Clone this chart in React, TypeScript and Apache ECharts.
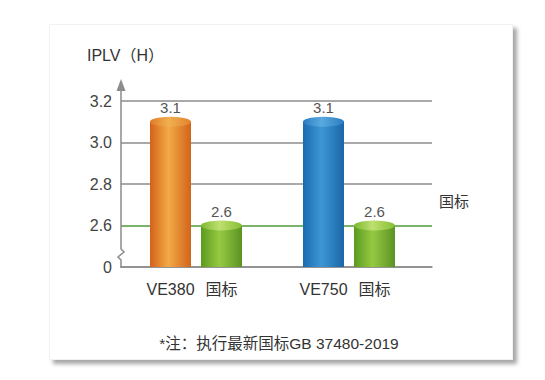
import React, { useEffect, useRef } from "react";
import * as echarts from "echarts";

const categories = ["VE380", "国标", "", "VE750", "国标"];
const iplv = [3.1, 2.6, null, 3.1, 2.6];
const barPalette = ["orange", "green", "none", "blue", "green"];
const yAxisLabels: Record<string, string> = { "2.4": "0", "2.6": "2.6", "2.8": "2.8", "3": "3.0", "3.2": "3.2" };
const refLineName = "国标";
const titleText = "IPLV（H）";
const noteText = "*注：执行最新国标GB 37480-2019";

const FONT = "'Liberation Sans', Arial, 'Noto Sans CJK SC', sans-serif";

const bodyGrad: Record<string, string[]> = {
  orange: ["#d4621a", "#f3aa46", "#d2641c"],
  green: ["#5a9a20", "#96c942", "#5a9322"],
  blue: ["#1b6bb0", "#3e97d5", "#1a66a6"],
};
const topGrad: Record<string, string[]> = {
  orange: ["#e07a25", "#f0b050", "#e2832c"],
  green: ["#7fb832", "#bde070", "#86bd35"],
  blue: ["#2a7cc0", "#5aaae0", "#2a7cc0"],
};

function lg(c: string[]) {
  return new echarts.graphic.LinearGradient(0, 0, 1, 0, [
    { offset: 0, color: c[0] },
    { offset: 0.45, color: c[1] },
    { offset: 1, color: c[2] },
  ]);
}

export default function App() {
  const ref = useRef<HTMLDivElement>(null);
  useEffect(() => {
    if (!ref.current) return;
    const chart = echarts.init(ref.current, null, { renderer: "svg" });
    const barData = iplv.map((v, i) =>
      v == null
        ? null
        : { value: v, itemStyle: { color: lg(bodyGrad[barPalette[i]]) } }
    );
    const topData = iplv.map((v, i) =>
      v == null
        ? null
        : { value: v, itemStyle: { color: lg(topGrad[barPalette[i]]) } }
    );
    chart.setOption({
      animation: false,
      textStyle: { fontFamily: FONT },
      grid: [
        { left: 121, top: 101, width: 311, height: 166 },
        { left: 145, top: 101, width: 255, height: 166 },
      ],
      xAxis: [
        {
          gridIndex: 0,
          type: "category",
          data: [""],
          axisLine: { show: true, lineStyle: { color: "#8c8c8c", width: 1.5 } },
          axisTick: { show: false },
          axisLabel: { show: false },
        },
        {
          gridIndex: 1,
          type: "category",
          data: categories,
          axisLine: { show: false },
          axisTick: { show: false },
          axisLabel: { interval: 0, fontSize: 16, color: "#333", margin: 14, fontFamily: FONT },
        },
      ],
      yAxis: [
        {
          gridIndex: 0,
          type: "value",
          min: 2.4,
          max: 3.2,
          interval: 0.2,
          axisLine: { show: false },
          axisTick: { show: false },
          axisLabel: {
            fontSize: 16,
            color: "#444",
            margin: 9,
            fontFamily: FONT,
            formatter: (v: number) => yAxisLabels[String(Math.round(v * 10) / 10)] ?? "",
          },
          splitLine: {
            show: true,
            lineStyle: {
              color: ["#8c8c8c", "#4f9a3a", "#8c8c8c", "#8c8c8c", "#8c8c8c"],
              width: 1.5,
            },
          },
        },
        {
          gridIndex: 1,
          type: "value",
          min: 2.4,
          max: 3.2,
          interval: 0.2,
          show: false,
          splitLine: { show: false },
        },
      ],
      series: [
        {
          type: "bar",
          xAxisIndex: 1,
          yAxisIndex: 1,
          data: barData,
          barWidth: 41,
          z: 2,
          label: {
            show: true,
            position: "top",
            distance: 7,
            fontSize: 15,
            color: "#555",
            fontFamily: FONT,
          },
        },
        {
          type: "pictorialBar",
          xAxisIndex: 1,
          yAxisIndex: 1,
          data: topData,
          symbol: "circle",
          symbolSize: [41, 10],
          symbolPosition: "end",
          symbolOffset: [0, "-50%"],
          z: 3,
        },
      ],
      graphic: [
        {
          type: "text",
          left: 87,
          top: 47,
          style: { text: titleText, fontSize: 16, fill: "#333", fontFamily: FONT },
        },
        {
          type: "polyline",
          shape: {
            points: [
              [121, 86],
              [121, 249],
              [124, 252],
              [118, 257],
              [121, 260],
              [121, 268],
            ],
          },
          style: { stroke: "#8c8c8c", lineWidth: 1.5, fill: "none" },
          z: 10,
        },
        {
          type: "polygon",
          shape: { points: [[116.5, 91], [121, 79], [125.5, 91]] },
          style: { fill: "#8c8c8c" },
          z: 10,
        },
        {
          type: "text",
          left: 439,
          top: 194,
          style: { text: refLineName, fontSize: 15, fill: "#333", fontFamily: FONT },
        },
        {
          type: "text",
          x: 279,
          y: 343,
          style: {
            text: noteText,
            fontSize: 15.5,
            fill: "#333",
            fontFamily: FONT,
            align: "center",
            verticalAlign: "middle",
          },
        },
      ],
    });
    return () => chart.dispose();
  }, []);

  return (
    <div style={{ position: "fixed", left: 0, top: 0, width: 545, height: 380, background: "#fff" }}>
      <div
        style={{
          position: "absolute",
          left: 49,
          top: 24,
          width: 464,
          height: 336,
          background: "#fff",
          border: "1px solid #f2f2f2",
          boxSizing: "border-box",
          boxShadow: "4px 4px 4px rgba(0,0,0,0.35)",
        }}
      />
      <div ref={ref} style={{ position: "absolute", left: 0, top: 0, width: 545, height: 380 }} />
    </div>
  );
}
